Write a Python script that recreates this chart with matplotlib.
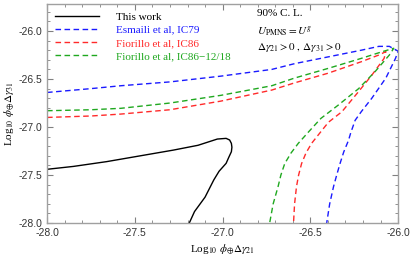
import matplotlib
matplotlib.use("Agg")
import matplotlib.pyplot as plt
from matplotlib.ticker import MultipleLocator, FormatStrFormatter

plt.rcParams['mathtext.fontset'] = 'stix'
plt.rcParams['font.family'] = ['Liberation Serif', 'DejaVu Serif']

# Data
this_x = [-28.0, -27.85, -27.66, -27.47, -27.28, -27.14, -27.03, -26.98, -26.96, -26.95, -26.947, -26.95, -26.965, -26.98, -27.02, -27.05, -27.10, -27.16, -27.19]
this_y = [-27.44, -27.41, -27.36, -27.30, -27.24, -27.19, -27.125, -27.118, -27.135, -27.17, -27.21, -27.257, -27.316, -27.378, -27.46, -27.55, -27.73, -27.88, -28.0]

esm_x = [-28.0, -27.75, -27.58, -27.30, -27.01, -26.72, -26.59, -26.40, -26.21, -26.11, -26.05, -26.0, -26.015, -26.07, -26.15, -26.21, -26.245, -26.27, -26.283, -26.31, -26.331, -26.35, -26.368, -26.39, -26.407]
esm_y = [-26.64, -26.60, -26.57, -26.53, -26.47, -26.40, -26.34, -26.27, -26.20, -26.16, -26.16, -26.21, -26.285, -26.49, -26.70, -26.84, -26.93, -27.06, -27.14, -27.26, -27.38, -27.50, -27.62, -27.80, -28.0]

f86_x = [-28.0, -27.75, -27.58, -27.30, -27.01, -26.72, -26.59, -26.40, -26.21, -26.11, -26.07, -26.08, -26.15, -26.225, -26.32, -26.397, -26.454, -26.493, -26.525, -26.55, -26.567, -26.579, -26.59, -26.596]
f86_y = [-26.90, -26.885, -26.865, -26.82, -26.73, -26.615, -26.54, -26.44, -26.32, -26.25, -26.215, -26.285, -26.46, -26.63, -26.84, -26.95, -27.08, -27.17, -27.27, -27.38, -27.50, -27.62, -27.80, -28.0]

f1218_x = [-28.0, -27.75, -27.58, -27.30, -27.01, -26.72, -26.59, -26.40, -26.21, -26.09, -26.025, -26.05, -26.13, -26.225, -26.34, -26.44, -26.51, -26.569, -26.61, -26.646, -26.668, -26.684, -26.712, -26.732]
f1218_y = [-26.83, -26.82, -26.805, -26.75, -26.67, -26.57, -26.49, -26.39, -26.285, -26.215, -26.18, -26.25, -26.42, -26.60, -26.77, -26.91, -27.05, -27.17, -27.27, -27.38, -27.50, -27.62, -27.80, -28.0]

labels = ["This work", "Esmaili et al, IC79", "Fiorillo et al, IC86", "Fiorillo et al, IC86\u221212/18"]
colors = ["black", "#1a1aff", "#ff2a2a", "#1fa81f"]

fig = plt.figure(figsize=(4.13, 2.57), dpi=100)
ax = fig.add_axes([0.114, 0.132, 0.850, 0.852])

ax.plot(this_x, this_y, color=colors[0], lw=1.0, label=labels[0])
ax.plot(esm_x, esm_y, color=colors[1], lw=1.0, dashes=(4, 2.5), label=labels[1])
ax.plot(f86_x, f86_y, color=colors[2], lw=1.0, dashes=(4, 2.5), label=labels[2])
ax.plot(f1218_x, f1218_y, color=colors[3], lw=1.0, dashes=(4, 2.5), label=labels[3])

ax.set_xlim(-28.0, -26.0)
ax.set_ylim(-28.0, -25.72)
ax.xaxis.set_major_locator(MultipleLocator(0.5))
ax.xaxis.set_minor_locator(MultipleLocator(0.1))
ax.yaxis.set_major_locator(MultipleLocator(0.5))
ax.yaxis.set_minor_locator(MultipleLocator(0.1))
ax.xaxis.set_major_formatter(FormatStrFormatter('%.1f'))
ax.yaxis.set_major_formatter(FormatStrFormatter('%.1f'))

framec = '#a0a0a0'
for s in ax.spines.values():
    s.set_color(framec)
    s.set_linewidth(1.0)
ax.tick_params(which='both', direction='in', top=True, right=True, color='#808080')
ax.tick_params(which='major', length=4, width=0.8)
ax.tick_params(which='minor', length=2, width=0.6)
for lab in ax.get_xticklabels() + ax.get_yticklabels():
    lab.set_fontfamily('Liberation Sans')
    lab.set_fontsize(7.5)
    lab.set_color('#333333')

ax.set_xlabel(r"Log$_{10}$ $\phi_{\oplus}\Delta\gamma_{21}$", fontsize=8, labelpad=3)
ax.set_ylabel(r"Log$_{10}$ $\phi_{\oplus}\Delta\gamma_{31}$", fontsize=8, labelpad=2)

leg = ax.legend(loc='upper left', frameon=False, fontsize=8, handlelength=4.0,
                labelspacing=0.3, borderaxespad=0.3, handletextpad=1.5)
for t, c in zip(leg.get_texts(), colors):
    t.set_color(c)

ax.text(0.599, 0.955, "90% C. L.", transform=ax.transAxes, fontsize=8, va='center', ha='left')
ax.text(0.599, 0.875, r"$U_{\rm PMNS} = U^{g}$", transform=ax.transAxes, fontsize=8, va='center', ha='left')
ax.text(0.599, 0.80, r"$\Delta\gamma_{21} > 0\ ,\,\Delta\gamma_{31} > 0$", transform=ax.transAxes, fontsize=8, va='center', ha='left')

fig.savefig("out.png", dpi=100)
